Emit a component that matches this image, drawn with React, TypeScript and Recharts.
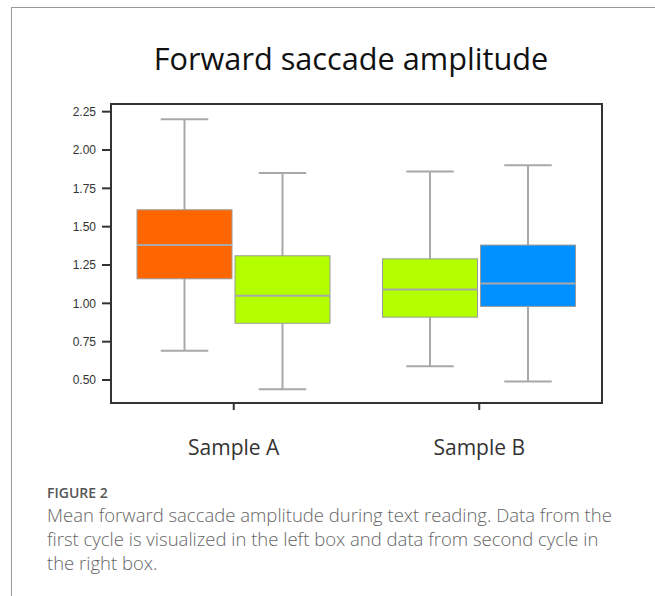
import React from 'react';
import { BarChart, Bar, XAxis, YAxis, Cell, ReferenceArea } from 'recharts';

// categories and box statistics
const categories = ['Sample A', 'Sample B'];

// first cycle (left box of each pair)
const firstMin = [0.69, 0.59];
const firstQ1 = [1.16, 0.91];
const firstMedian = [1.38, 1.09];
const firstQ3 = [1.61, 1.29];
const firstMax = [2.2, 1.86];

// second cycle (right box of each pair)
const secondMin = [0.44, 0.49];
const secondQ1 = [0.87, 0.98];
const secondMedian = [1.05, 1.13];
const secondQ3 = [1.31, 1.38];
const secondMax = [1.85, 1.9];

const firstColors = ['#FF6600', '#B3FF00'];
const secondColors = ['#B3FF00', '#0091FF'];

const yTicks = [0.5, 0.75, 1.0, 1.25, 1.5, 1.75, 2.0, 2.25];
const yDomain = [0.35, 2.3];

const data = categories.map((name, i) => ({
  name,
  first: [firstQ1[i], firstQ3[i]],
  second: [secondQ1[i], secondQ3[i]],
}));

type Stats = { min: number[]; q1: number[]; median: number[]; q3: number[]; max: number[] };

const firstStats: Stats = { min: firstMin, q1: firstQ1, median: firstMedian, q3: firstQ3, max: firstMax };
const secondStats: Stats = { min: secondMin, q1: secondQ1, median: secondMedian, q3: secondQ3, max: secondMax };

const WHISKER = '#a8a8a8';

// the bar covers q1..q3, so its own pixel height gives the scale for median and whiskers
const makeBox = (stats: Stats) => (props: any) => {
  const { x, y, width, height, fill, payload } = props;
  const i = props.index ?? categories.indexOf(payload?.name);
  const top = Math.min(y, y + height);
  const h = Math.abs(height);
  const q1 = stats.q1[i];
  const q3 = stats.q3[i];
  const k = h / (q3 - q1);
  const toY = (v: number) => top + (q3 - v) * k;
  const cx = x + width / 2;
  const cap = width / 4;
  return (
    <g>
      <line x1={cx} x2={cx} y1={toY(stats.max[i])} y2={top} stroke={WHISKER} strokeWidth={2} />
      <line x1={cx} x2={cx} y1={top + h} y2={toY(stats.min[i])} stroke={WHISKER} strokeWidth={2} />
      <line x1={cx - cap} x2={cx + cap} y1={toY(stats.max[i])} y2={toY(stats.max[i])} stroke={WHISKER} strokeWidth={2} />
      <line x1={cx - cap} x2={cx + cap} y1={toY(stats.min[i])} y2={toY(stats.min[i])} stroke={WHISKER} strokeWidth={2} />
      <rect x={x} y={top} width={width} height={h} fill={fill} stroke="#9a9a9a" strokeWidth={1} />
      <line x1={x} x2={x + width} y1={toY(stats.median[i])} y2={toY(stats.median[i])} stroke={WHISKER} strokeWidth={2} />
    </g>
  );
};

const App = () => {
  return (
    <div style={{ position: 'absolute', left: 0, top: 0, width: 655, height: 596, overflow: 'hidden', background: '#fff' }}>
      {/* page frame lines */}
      <div style={{ position: 'absolute', left: 11, top: 7, width: 700, height: 700, borderLeft: '1px solid #9a9a9a', borderTop: '1px solid #9a9a9a' }} />

      <div
        style={{
          position: 'absolute', left: 51, top: 43, width: 600, textAlign: 'center',
          fontFamily: '"Open Sans", sans-serif', fontSize: 30.7, lineHeight: '30px', color: '#111',
          whiteSpace: 'nowrap',
        }}
      >
        Forward saccade amplitude
      </div>

      <div style={{ position: 'absolute', left: 0, top: 0 }}>
        <BarChart
          width={655}
          height={470}
          data={data}
          margin={{ top: 104, right: 53, bottom: 17, left: 51 }}
          barGap={3}
        >
          <XAxis
            dataKey="name"
            height={50}
            tickSize={7}
            tickMargin={30}
            axisLine={{ stroke: '#333', strokeWidth: 2 }}
            tickLine={{ stroke: '#333', strokeWidth: 2 }}
            tick={{ fontSize: 21, fill: '#333', fontFamily: '"Open Sans", sans-serif' }}
          />
          <YAxis
            type="number"
            domain={yDomain}
            ticks={yTicks}
            width={60}
            tickSize={9}
            tickMargin={6}
            tickFormatter={(v: number) => v.toFixed(2)}
            axisLine={{ stroke: '#333', strokeWidth: 2 }}
            tickLine={{ stroke: '#333', strokeWidth: 2 }}
            tick={{ fontSize: 12, fill: '#333', fontFamily: '"Liberation Sans", Arial, sans-serif' }}
          />
          {/* plot frame */}
          <ReferenceArea y1={yDomain[0]} y2={yDomain[1]} fill="none" stroke="#333" strokeWidth={2} ifOverflow="visible" />
          <Bar dataKey="first" barSize={95} isAnimationActive={false} shape={makeBox(firstStats)}>
            {categories.map((c, i) => (
              <Cell key={c} fill={firstColors[i]} />
            ))}
          </Bar>
          <Bar dataKey="second" barSize={95} isAnimationActive={false} shape={makeBox(secondStats)}>
            {categories.map((c, i) => (
              <Cell key={c} fill={secondColors[i]} />
            ))}
          </Bar>
        </BarChart>
      </div>

      <div
        style={{
          position: 'absolute', left: 47, top: 486, fontFamily: '"Open Sans", sans-serif',
          fontSize: 14, lineHeight: '14px', fontWeight: 600, color: '#555',
        }}
      >
        FIGURE 2
      </div>
      <div
        style={{
          position: 'absolute', left: 47, top: 503, fontFamily: '"Open Sans", sans-serif',
          fontSize: 18.5, lineHeight: '24px', fontWeight: 300, color: '#666', whiteSpace: 'nowrap',
        }}
      >
        <div>Mean forward saccade amplitude during text reading. Data from the</div>
        <div>first cycle is visualized in the left box and data from second cycle in</div>
        <div>the right box.</div>
      </div>
    </div>
  );
};

export default App;
